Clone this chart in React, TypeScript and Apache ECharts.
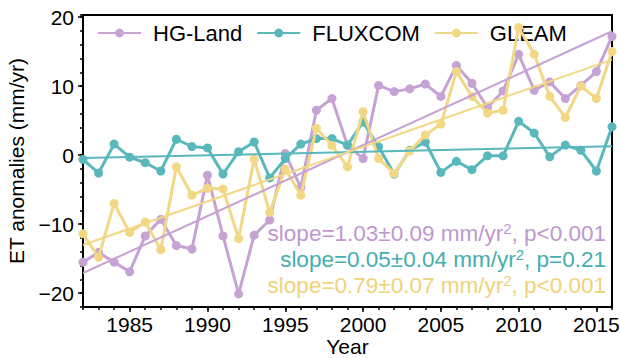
import { useEffect, useRef } from "react";
import * as echarts from "echarts";

// Annual ET anomalies (mm/yr), 1982–2016
const years = [
  1982, 1983, 1984, 1985, 1986, 1987, 1988, 1989, 1990, 1991, 1992, 1993,
  1994, 1995, 1996, 1997, 1998, 1999, 2000, 2001, 2002, 2003, 2004, 2005,
  2006, 2007, 2008, 2009, 2010, 2011, 2012, 2013, 2014, 2015, 2016,
];

const hgLand = [
  -15.5, -14.1, -15.5, -16.9, -11.7, -9.3, -13.1, -13.6, -2.9, -11.7, -20.1,
  -11.6, -9.4, 0.25, -4.7, 6.5, 8.2, 1.4, -0.5, 10.1, 9.2, 9.6, 10.3, 8.5,
  13.0, 10.4, 6.9, 9.3, 14.6, 9.4, 10.6, 8.2, 10.1, 12.1, 17.2,
];

const fluxcom = [
  -0.6, -2.6, 1.6, -0.3, -1.1, -2.3, 2.3, 1.25, 1.05, -2.75, 0.5, 1.9, -3.3,
  -0.5, 1.6, 2.4, 2.4, 1.45, 4.8, 1.2, -2.75, 0.7, 1.9, -2.5, -0.9, -2.1, -0.1,
  -0.1, 4.9, 3.2, -0.25, 1.45, 0.7, -2.3, 4.1,
];

const gleam = [
  -11.4, -14.8, -7.0, -11.2, -9.7, -13.7, -1.7, -5.8, -4.8, -4.9, -12.1, -0.6,
  -8.3, -2.0, -5.8, 3.9, 1.4, -1.7, 6.3, -0.5, -2.65, 0.6, 2.9, 4.5, 12.1, 8.5,
  6.1, 6.5, 18.5, 14.6, 8.5, 5.45, 10.0, 8.2, 15.0,
];

const seriesNames = ["HG-Land", "FLUXCOM", "GLEAM"];
const seriesValues = [hgLand, fluxcom, gleam];
const lineColors = ["#c6a2d5", "#58b8bb", "#f2d784"];
const textColors = ["#bf97cf", "#45aeb1", "#f0d27a"];

// Linear trend slopes (mm/yr²) and their stats
const slopes = [1.03, 0.05, 0.79];
const slopeTexts = ["1.03±0.09", "0.05±0.04", "0.79±0.07"];
const pTexts = ["p<0.001", "p=0.21", "p<0.001"];

const xTicks = [1985, 1990, 1995, 2000, 2005, 2010, 2015];
const yTicks = [-20, -10, 0, 10, 20];

const FONT = "'Liberation Sans', Arial, Helvetica, sans-serif";
const X_MIN = 1982;
const X_MAX = 2016;
const Y_MIN = -22;
const Y_MAX = 20.3;

function mean(a: number[]) {
  return a.reduce((s, v) => s + v, 0) / a.length;
}

// Least-squares line passes through the means; slope taken from the stated value
function trendLine(values: number[], slope: number) {
  const my = mean(values);
  const mx = mean(years);
  return [X_MIN, X_MAX].map((x) => [x, my + slope * (x - mx)]);
}

function buildOption() {
  const dataSeries = seriesNames.map((name, i) => ({
    type: "line",
    name,
    data: years.map((y, k) => [y, seriesValues[i][k]]),
    symbol: "circle",
    symbolSize: 9,
    showSymbol: true,
    lineStyle: { width: 3, color: lineColors[i] },
    itemStyle: { color: lineColors[i] },
    emphasis: { disabled: true },
    z: 2 + i,
  }));

  const trendSeries = seriesNames.map((name, i) => ({
    type: "line",
    name: name + " trend",
    data: trendLine(seriesValues[i], slopes[i]),
    symbol: "none",
    lineStyle: { width: 2, color: lineColors[i] },
    emphasis: { disabled: true },
    silent: true,
    z: 6,
  }));

  const annotationY = [233, 259, 285];
  const annotations = seriesNames.map((_, i) => ({
    type: "text",
    x: 606,
    y: annotationY[i],
    z: 10,
    style: {
      text: `{a|slope=${slopeTexts[i]} mm/yr}{s|2}{a|, ${pTexts[i]}}`,
      align: "right",
      verticalAlign: "middle",
      fill: textColors[i],
      rich: {
        a: {
          fontSize: 22.5,
          fontFamily: FONT,
          fill: textColors[i],
          lineHeight: 24,
        },
        s: {
          fontSize: 15,
          fontFamily: FONT,
          fill: textColors[i],
          lineHeight: 18,
          verticalAlign: "top",
        },
      },
    },
  }));

  const tickLine = { color: "#000", width: 1.5 };

  return {
    animation: false,
    backgroundColor: "#fff",
    grid: {
      left: 83,
      right: 8,
      top: 15,
      bottom: 51,
      show: true,
      borderColor: "#000",
      borderWidth: 2,
      backgroundColor: "transparent",
      containLabel: false,
      outerBoundsMode: "none",
    },
    legend: {
      data: seriesNames,
      left: 97,
      top: 22,
      padding: 0,
      itemWidth: 43,
      itemHeight: 11,
      itemGap: 14,
      textStyle: {
        fontSize: 22,
        fontFamily: FONT,
        color: "#000",
        padding: [0, 0, 0, 7],
      },
      selectedMode: false,
    },
    xAxis: [
      {
        type: "value",
        min: X_MIN,
        max: X_MAX,
        position: "bottom",
        axisLine: { show: false, onZero: false },
        axisTick: {
          show: true,
          length: 5,
          lineStyle: tickLine,
          customValues: xTicks,
        },
        axisLabel: {
          customValues: xTicks,
          fontSize: 21,
          fontFamily: FONT,
          color: "#000",
          margin: 7,
          formatter: (v: number) => String(v),
        },
        splitLine: { show: false },
        name: "Year",
        nameLocation: "middle",
        nameGap: 29,
        nameMoveOverlap: false,
        nameTextStyle: { fontSize: 21, fontFamily: FONT, color: "#000" },
      },
      {
        type: "value",
        min: X_MIN,
        max: X_MAX,
        interval: 1,
        position: "bottom",
        axisLine: { show: false, onZero: false },
        axisTick: { show: true, length: 3, lineStyle: tickLine },
        axisLabel: { show: false },
        splitLine: { show: false },
      },
    ],
    yAxis: [
      {
        type: "value",
        min: Y_MIN,
        max: Y_MAX,
        position: "left",
        axisLine: { show: false, onZero: false },
        axisTick: {
          show: true,
          length: 5,
          lineStyle: tickLine,
          customValues: yTicks,
        },
        axisLabel: {
          customValues: yTicks,
          fontSize: 21,
          fontFamily: FONT,
          color: "#000",
          margin: 9,
          formatter: (v: number) => (v < 0 ? "\u2212" + Math.abs(v) : String(v)),
        },
        splitLine: { show: false },
        name: "ET anomalies (mm/yr)",
        nameLocation: "middle",
        nameGap: 49,
        nameTextStyle: { fontSize: 21, fontFamily: FONT, color: "#000" },
      },
      {
        type: "value",
        min: Y_MIN,
        max: Y_MAX,
        interval: 2,
        position: "left",
        axisLine: { show: false, onZero: false },
        axisTick: { show: true, length: 3, lineStyle: tickLine },
        axisLabel: { show: false },
        splitLine: { show: false },
      },
    ],
    series: [...dataSeries, ...trendSeries],
    graphic: annotations,
  };
}

export default function App() {
  const ref = useRef<HTMLDivElement>(null);

  useEffect(() => {
    if (!ref.current) return;
    const chart = echarts.init(ref.current, null, { renderer: "svg" });
    chart.setOption(buildOption() as any);
    return () => chart.dispose();
  }, []);

  return (
    <div
      ref={ref}
      style={{ position: "fixed", left: 0, top: 0, width: 620, height: 358 }}
    />
  );
}
